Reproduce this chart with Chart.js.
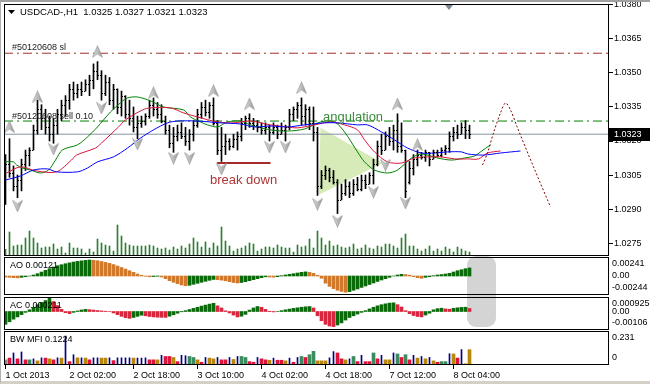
<!DOCTYPE html>
<html><head><meta charset="utf-8">
<script src="https://cdn.jsdelivr.net/npm/chart.js@4.4.1/dist/chart.umd.min.js"></script>
<style>
html,body{margin:0;padding:0;background:#fff;}
#wrap{position:relative;width:650px;height:384px;overflow:hidden;background:#fff;}
canvas{position:absolute;left:0;}
#shade{position:absolute;left:467px;top:256px;width:29px;height:71px;border-radius:9px;background:#d4d4d4;}
#shift{position:absolute;left:445px;top:5px;width:0;height:0;border-left:4px solid transparent;border-right:4px solid transparent;border-top:5px solid #7f8790;}
#frame{position:absolute;left:0;top:0;width:650px;height:384px;box-sizing:border-box;border-top:2px solid #a0a0a0;border-left:1px solid #b0b0b0;border-bottom:3px solid #d4d0c8;pointer-events:none;}
</style></head>
<body><div id="wrap">
<div id="shade"></div>
<canvas id="cMain" width="650" height="257" style="top:0px"></canvas>
<canvas id="cAO" width="650" height="38" style="top:257px"></canvas>
<canvas id="cAC" width="650" height="33" style="top:297px"></canvas>
<canvas id="cMFI" width="650" height="53" style="top:331px"></canvas>
<div id="shift"></div>
<div id="frame"></div>
</div>
<script>
// ---------------- DATA ----------------
const symbolTitle = 'USDCAD-,H1  1.0325 1.0327 1.0321 1.0323';
const timeLabels = ['1 Oct 2013','2 Oct 02:00','2 Oct 18:00','3 Oct 10:00','4 Oct 02:00','4 Oct 18:00','7 Oct 12:00','8 Oct 04:00'];
const timeTickIdx = [0,16,32,48,64,80,96,112];
const priceTicks = [1.0275,1.0290,1.0305,1.0320,1.0335,1.0350,1.0365,1.0380];

const highs = [1.0314,1.0321,1.0309,1.0305,1.0312,1.0316,1.0317,1.0327,1.0338,1.0336,
1.0334,1.0331,1.0330,1.0334,1.0338,1.0340,1.0345,1.0346,1.0345,1.0346,
1.0347,1.0349,1.0354,1.0355,1.0351,1.0349,1.0348,1.0345,1.0343,1.0342,
1.0340,1.0338,1.0335,1.0331,1.0331,1.0332,1.0338,1.0339,1.0337,1.0336,
1.0331,1.0327,1.0326,1.0327,1.0328,1.0326,1.0325,1.0329,1.0334,1.0337,
1.0338,1.0337,1.0339,1.0329,1.0326,1.0323,1.0321,1.0323,1.0324,1.0330,
1.0331,1.0332,1.0330,1.0329,1.0328,1.0328,1.0327,1.0328,1.0327,1.0328,
1.0327,1.0334,1.0335,1.0337,1.0339,1.0336,1.0335,1.0335,1.0326,1.0307,
1.0309,1.0308,1.0307,1.0303,1.0301,1.0303,1.0302,1.0303,1.0304,1.0305,
1.0305,1.0306,1.0312,1.0320,1.0323,1.0324,1.0326,1.0327,1.0332,1.0328,
1.0316,1.0311,1.0314,1.0316,1.0315,1.0316,1.0315,1.0316,1.0316,1.0317,
1.0318,1.0324,1.0326,1.0327,1.0328,1.0329,1.0327];
const lows = [1.0292,1.0304,1.0298,1.0295,1.0298,1.0307,1.0309,1.0316,1.0323,1.0325,
1.0323,1.0320,1.0319,1.0323,1.0329,1.0331,1.0334,1.0338,1.0339,1.0340,
1.0342,1.0340,1.0343,1.0347,1.0338,1.0340,1.0336,1.0334,1.0332,1.0331,
1.0330,1.0327,1.0324,1.0321,1.0326,1.0327,1.0330,1.0331,1.0330,1.0328,
1.0323,1.0317,1.0315,1.0320,1.0321,1.0318,1.0316,1.0320,1.0326,1.0330,
1.0331,1.0330,1.0327,1.0314,1.0311,1.0314,1.0316,1.0317,1.0316,1.0320,
1.0325,1.0326,1.0325,1.0324,1.0323,1.0323,1.0320,1.0323,1.0321,1.0323,
1.0320,1.0325,1.0329,1.0330,1.0327,1.0327,1.0325,1.0320,1.0296,1.0299,
1.0303,1.0302,1.0301,1.0288,1.0294,1.0296,1.0295,1.0296,1.0298,1.0298,
1.0299,1.0301,1.0301,1.0309,1.0314,1.0316,1.0318,1.0316,1.0315,1.0315,
1.0295,1.0301,1.0305,1.0309,1.0312,1.0311,1.0309,1.0312,1.0313,1.0313,
1.0314,1.0315,1.0320,1.0321,1.0323,1.0321,1.0321];
const opens = [1.0300,1.0310,1.0306,1.0300,1.0303,1.0310,1.0314,1.0316,1.0325,1.0334,
1.0330,1.0326,1.0323,1.0327,1.0332,1.0336,1.0338,1.0343,1.0341,1.0343,
1.0342,1.0345,1.0347,1.0351,1.0349,1.0341,1.0346,1.0338,1.0343,1.0335,
1.0340,1.0332,1.0330,1.0326,1.0328,1.0329,1.0331,1.0336,1.0334,1.0332,
1.0329,1.0325,1.0319,1.0322,1.0324,1.0322,1.0320,1.0323,1.0327,1.0332,
1.0335,1.0333,1.0336,1.0328,1.0316,1.0318,1.0320,1.0318,1.0321,1.0322,
1.0328,1.0330,1.0328,1.0327,1.0326,1.0325,1.0326,1.0324,1.0326,1.0323,
1.0325,1.0326,1.0332,1.0334,1.0336,1.0331,1.0334,1.0328,1.0324,1.0300,
1.0305,1.0307,1.0304,1.0302,1.0294,1.0297,1.0300,1.0297,1.0301,1.0299,
1.0303,1.0301,1.0305,1.0310,1.0318,1.0316,1.0322,1.0320,1.0325,1.0318,
1.0316,1.0302,1.0308,1.0312,1.0314,1.0313,1.0315,1.0312,1.0315,1.0314,
1.0316,1.0317,1.0322,1.0324,1.0323,1.0326,1.0325];
const closes = [1.0310,1.0306,1.0300,1.0303,1.0310,1.0314,1.0316,1.0325,1.0334,1.0330,
1.0326,1.0323,1.0327,1.0332,1.0336,1.0338,1.0343,1.0341,1.0343,1.0342,
1.0345,1.0347,1.0351,1.0349,1.0341,1.0346,1.0338,1.0343,1.0335,1.0340,
1.0332,1.0330,1.0326,1.0328,1.0329,1.0331,1.0336,1.0334,1.0332,1.0329,
1.0325,1.0319,1.0322,1.0324,1.0322,1.0320,1.0323,1.0327,1.0332,1.0335,
1.0333,1.0336,1.0328,1.0316,1.0318,1.0320,1.0318,1.0321,1.0322,1.0328,
1.0330,1.0328,1.0327,1.0326,1.0325,1.0326,1.0324,1.0326,1.0323,1.0325,
1.0326,1.0332,1.0334,1.0336,1.0331,1.0334,1.0328,1.0324,1.0300,1.0305,
1.0307,1.0304,1.0302,1.0294,1.0297,1.0300,1.0297,1.0301,1.0299,1.0303,
1.0301,1.0305,1.0310,1.0318,1.0316,1.0322,1.0320,1.0325,1.0318,1.0316,
1.0298,1.0308,1.0312,1.0314,1.0313,1.0315,1.0312,1.0315,1.0314,1.0316,
1.0317,1.0322,1.0324,1.0323,1.0326,1.0325,1.0323];
const volumes = [335,1200,500,550,550,900,1250,900,650,400,
450,450,600,350,450,150,650,400,400,350,
150,350,200,850,650,550,500,250,1550,1000,
650,550,500,500,500,500,550,500,400,350,
400,300,450,350,500,400,600,900,700,450,
700,400,650,500,1450,750,500,250,350,400,
500,650,600,250,350,450,450,400,550,450,
400,400,200,550,450,500,850,400,1250,900,
550,750,500,550,450,400,450,600,350,400,
550,400,350,500,450,600,600,500,400,900,
1100,500,500,350,250,350,500,250,350,250,
450,350,200,450,350,250,200];

// Alligator (jaw / teeth / lips), bar index -> price, shifted forward
const jawIdx = [0,3.75,7,10.5,12.75,18,20.5,23,27,30.5,33.75,37,40.5,43,48,53.75,58.75,62.25,66.25,70.5,74.75,79.75,83,88,90.5,94,97.25,100.5,104,107.25,110.5,114,115.5,119.5,123.75,128.75];
const jawVal = [1.03028,1.03046,1.03072,1.03077,1.03064,1.03064,1.03081,1.03108,1.0313,1.03169,1.03213,1.03249,1.0328,1.03288,1.03288,1.0328,1.03275,1.03262,1.03266,1.03262,1.03271,1.0328,1.0328,1.03271,1.03271,1.0324,1.03205,1.03169,1.03147,1.03147,1.03152,1.03152,1.03143,1.03138,1.03147,1.03156];
const teethIdx = [0.25,3.75,7.75,12.75,16.5,17.75,22.5,24,28.25,30,34.25,36.25,41.25,44.5,48,53,57,61.25,66.25,70.5,73,77.25,81.25,84.75,88,89.75,92.25,95.5,99,102.25,105.5,109,112.25,115.5,118.25,120.5,123.75];
const teethVal = [1.03059,1.03086,1.03068,1.03064,1.03116,1.03138,1.03169,1.03191,1.03262,1.03293,1.03337,1.03346,1.03346,1.03324,1.03306,1.03284,1.0328,1.03288,1.03271,1.03262,1.03258,1.03271,1.03284,1.03271,1.03249,1.03205,1.03152,1.03108,1.03103,1.03125,1.0313,1.0313,1.03121,1.03121,1.03121,1.03147,1.03156];
const lipsIdx = [-0.5,2,2.75,4.25,6.25,8.75,10.75,12.5,14.25,18,20.5,23,24.5,26.25,29,30.5,33,36.25,39.5,44.5,46.25,48.75,50.5,53,55.5,58.75,61.25,66.25,70.5,74.75,78.75,82.25,84.75,88,89.75,92.25,95.5,98,101.5,104,108,111.5,114.75,117.25,118.75,121.25];
const lipsVal = [1.03108,1.03108,1.03094,1.03081,1.03072,1.03059,1.03072,1.03116,1.03161,1.03183,1.03218,1.03262,1.03293,1.03328,1.03372,1.0339,1.03394,1.03377,1.0335,1.03337,1.03306,1.03284,1.03271,1.03262,1.03284,1.03288,1.03271,1.03249,1.03244,1.03253,1.03284,1.03284,1.0324,1.03152,1.03108,1.03072,1.03059,1.03072,1.03125,1.03143,1.03125,1.03116,1.03125,1.03134,1.03152,1.03183];

// Fractals
const fractalUpIdx = [1,8,23,37,52,61,74,98,103];
const fractalUpPrice = [1.03262,1.03394,1.03593,1.03412,1.03421,1.03363,1.03434,1.03363,1.03183];
const fractalDnIdx = [3,12,24,33,42,46,54,66,70,78,83,92,95,100];
const fractalDnPrice = [1.02914,1.03165,1.03346,1.03187,1.03125,1.03125,1.03077,1.03174,1.03174,1.02922,1.02847,1.02975,1.03094,1.02927];

// Drawn objects
const triIdx = [78.75,78.25,94.25,78.75];
const triPrice = [1.03258,1.02962,1.03103,1.03258];
const projIdx = [119.25,120.5,122,123.75,125,126.25,128,132,136.25];
const projPrice = [1.03094,1.03147,1.03236,1.03324,1.03368,1.03337,1.03258,1.03086,1.02909];
const breakIdx = [52.9,66.25];
const breakPrice = [1.03103,1.03103];
const slPrice = 1.03587;
const sellPrice = 1.03288;
const bidPrice = 1.0323;

// Indicators
const aoValues = [
-0.00015,-0.00020,-0.00025,-0.00028,-0.00020,-0.00010,0.00000,0.00015,0.00035,0.00060,
0.00085,0.00110,0.00135,0.00155,0.00170,0.00185,0.00198,0.00210,0.00220,0.00228,
0.00235,0.00241,0.00236,0.00230,0.00218,0.00205,0.00190,0.00172,0.00150,0.00128,
0.00105,0.00080,0.00055,0.00030,0.00010,-0.00005,-0.00012,-0.00008,-0.00004,-0.00015,
-0.00040,-0.00070,-0.00095,-0.00115,-0.00135,-0.00147,-0.00140,-0.00125,-0.00110,-0.00095,
-0.00080,-0.00065,-0.00052,-0.00055,-0.00062,-0.00072,-0.00085,-0.00098,-0.00105,-0.00098,
-0.00085,-0.00070,-0.00055,-0.00040,-0.00025,-0.00012,-0.00015,-0.00018,-0.00010,0.00005,
0.00015,0.00025,0.00035,0.00045,0.00055,0.00062,0.00055,0.00040,0.00010,-0.00034,
-0.00108,-0.00157,-0.00190,-0.00215,-0.00232,-0.00244,-0.00235,-0.00215,-0.00195,-0.00172,
-0.00150,-0.00128,-0.00105,-0.00082,-0.00060,-0.00040,-0.00020,0.00000,0.00015,0.00025,
0.00022,0.00012,-0.00010,-0.00025,-0.00035,-0.00020,-0.00010,0.00005,0.00015,0.00022,
0.00030,0.00040,0.00060,0.00080,0.00095,0.00110,0.00121];
const acValues = [
-0.000900,-0.000720,-0.000540,-0.000380,-0.000220,-0.000060,0.000120,0.000300,0.000480,0.000640,
0.000770,0.000925,0.000700,0.000420,0.000150,-0.000080,-0.000150,-0.000060,0.000040,0.000110,
0.000150,0.000130,0.000100,0.000070,0.000040,0.000020,0.000000,-0.000100,-0.000220,-0.000340,
-0.000430,-0.000480,-0.000420,-0.000340,-0.000260,-0.000300,-0.000350,-0.000380,-0.000400,-0.000410,
-0.000415,-0.000330,-0.000230,-0.000120,-0.000020,0.000060,0.000140,0.000220,0.000300,0.000380,
0.000450,0.000520,0.000580,0.000400,0.000250,0.000050,-0.000100,-0.000250,-0.000380,-0.000330,
-0.000200,0.000100,0.000250,0.000350,0.000300,0.000150,0.000020,-0.000030,0.000000,0.000060,
0.000120,0.000170,0.000220,0.000260,0.000300,0.000330,0.000350,0.000250,-0.000300,-0.000650,
-0.000900,-0.001020,-0.001060,-0.000950,-0.000800,-0.000600,-0.000420,-0.000300,-0.000180,-0.000060,
0.000060,0.000180,0.000300,0.000400,0.000480,0.000540,0.000590,0.000610,0.000480,0.000320,
0.000060,-0.000150,-0.000280,-0.000350,-0.000380,-0.000250,-0.000120,0.000120,0.000200,0.000230,
0.000180,0.000160,0.000220,0.000260,0.000290,0.000300,0.000211];
const mfiValues = [
0.041,0.055,0.096,0.049,0.104,0.041,0.041,0.049,0.033,0.057,
0.055,0.049,0.041,0.057,0.055,0.231,0.027,0.082,0.057,0.057,
0.055,0.041,0.057,0.057,0.055,0.055,0.057,0.035,0.057,0.057,
0.057,0.057,0.055,0.055,0.055,0.057,0.041,0.041,0.041,0.077,
0.068,0.068,0.060,0.027,0.077,0.074,0.068,0.060,0.041,0.022,
0.060,0.055,0.049,0.060,0.041,0.041,0.060,0.044,0.068,0.068,
0.060,0.027,0.022,0.060,0.049,0.041,0.038,0.055,0.038,0.038,
0.033,0.055,0.022,0.060,0.068,0.060,0.082,0.109,0.033,0.033,
0.033,0.057,0.107,0.096,0.049,0.041,0.049,0.068,0.027,0.077,
0.027,0.027,0.096,0.049,0.077,0.041,0.041,0.096,0.088,0.060,
0.082,0.041,0.077,0.055,0.068,0.049,0.060,0.033,0.022,0.027,
0.027,0.090,0.088,0.055,0.123,0.010,0.1224];
// x = first bar, g = green, b = fade (brown), n = fake (blue), r = squat (red)
const mfiTypes = ('xrnrnrgnbn'+'rbrnbnrnbn'+'brnnbbnrnn'+'nnbnnnrrbn'+'rrbrnnggbr'+
 'nbbnrrnbng'+'grrnrrbnrr'+'bnrngrggbb'+'bnnrrbngrn'+'rrgrnbbngr'+'grnbnbnbrg'+'gnbrnbb').split('');

const aoTitle = 'AO 0.00121', acTitle = 'AC 0.000211', mfiTitle = 'BW MFI 0.1224';
const aoLabels = [0.00241, 0, -0.00244], aoLabelText = ['0.00241','0.00','-0.00244'];
const acLabels = [0.000925, 0, -0.00106], acLabelText = ['0.000925','0.00','-0.00106'];
const mfiLabels = [0.231, 0], mfiLabelText = ['0.231','0'];

// ---------------- STYLE / SETUP ----------------
const FONT = "'Liberation Sans', Arial, sans-serif";
Chart.defaults.font.family = FONT;
Chart.defaults.font.size = 9;
Chart.defaults.color = '#000';
const X_MIN = -0.375, X_MAX = X_MIN + 605/4;
const Y_MIN = 1.02693, Y_MAX = 1.03804;

function arrowImg(up) {
  const c = document.createElement('canvas'); c.width = 11; c.height = 13;
  const g = c.getContext('2d');
  if (!up) { g.translate(0, 13); g.scale(1, -1); }
  const gr = g.createLinearGradient(0, 0, 11, 0);
  gr.addColorStop(0, '#e4e4e4'); gr.addColorStop(0.5, '#bcbcbc'); gr.addColorStop(1, '#8e8e8e');
  g.beginPath(); g.moveTo(5.5, 0.5); g.lineTo(10.5, 12); g.lineTo(5.5, 8.5); g.lineTo(0.5, 12); g.closePath();
  g.fillStyle = gr; g.fill(); g.strokeStyle = '#9a9a9a'; g.lineWidth = 0.7; g.stroke();
  return c;
}
const upArrow = arrowImg(true), dnArrow = arrowImg(false);

const pts = (xs, ys) => xs.map((x, k) => ({x, y: ys[k]}));
const idxs = highs.map((_, i) => i);

const common = {
  responsive: false, animation: false, devicePixelRatio: 1, events: [],
  plugins: {legend: {display: false}, tooltip: {enabled: false}, title: {display: false}},
};
const xHidden = {type: 'linear', min: X_MIN, max: X_MAX, offset: false, display: false};

function frame(ctx, ca) {
  ctx.strokeStyle = '#000'; ctx.lineWidth = 1;
  ctx.strokeRect(ca.left + 0.5, ca.top + 0.5, ca.right - ca.left - 1, ca.bottom - ca.top - 1);
}

// ---------------- MAIN CHART ----------------
const mainOverlay = {
  id: 'mainOverlay',
  afterDatasetsDraw(chart) {
    const {ctx, scales: {x, y}} = chart;
    ctx.save(); ctx.fillStyle = '#000';
    for (let i = 0; i < opens.length; i++) {
      const px = Math.floor(x.getPixelForValue(i));
      ctx.fillRect(px - 1, Math.round(y.getPixelForValue(opens[i])), 1, 1);
      ctx.fillRect(px + 1, Math.round(y.getPixelForValue(closes[i])), 1, 1);
    }
    ctx.restore();
  },
  afterDraw(chart) {
    const {ctx, chartArea: ca, scales: {x, y}} = chart;
    ctx.save();
    frame(ctx, ca);
    ctx.textBaseline = 'middle'; ctx.textAlign = 'left';
    // order labels
    ctx.font = `9px ${FONT}`; ctx.fillStyle = '#202020';
    ctx.fillText('#50120608 sl', ca.left + 8, y.getPixelForValue(slPrice) - 6);
    ctx.fillText('#50120608 sell 0.10', ca.left + 8, y.getPixelForValue(sellPrice) - 5);
    // annotations
    ctx.font = `13px ${FONT}`; ctx.fillStyle = '#3a8c3a';
    ctx.fillText('angulation', x.getPixelForValue(79.4), y.getPixelForValue(1.03306));
    ctx.fillStyle = '#b03535';
    ctx.fillText('break down', x.getPixelForValue(51.1), y.getPixelForValue(1.03028));
    // title
    ctx.fillStyle = '#000';
    ctx.beginPath(); ctx.moveTo(8, 10); ctx.lineTo(15, 10); ctx.lineTo(11.5, 14); ctx.closePath(); ctx.fill();
    ctx.font = `9.5px ${FONT}`;
    ctx.fillText(symbolTitle, 20, 12);
    // bid box
    ctx.font = `9px ${FONT}`;
    const by = y.getPixelForValue(bidPrice);
    ctx.fillStyle = '#000'; ctx.fillRect(ca.right, Math.round(by) - 6, 41, 13);
    ctx.fillStyle = '#fff'; ctx.fillText(bidPrice.toFixed(4), ca.right + 5, Math.round(by) + 0.5);
    ctx.restore();
  }
};

const levelLine = (price, color, dash) => ({
  type: 'line', data: [{x: X_MIN, y: price}, {x: X_MAX, y: price}], borderColor: color,
  borderWidth: 1, borderDash: dash, pointRadius: 0, order: 6
});

new Chart(document.getElementById('cMain'), {
  type: 'bar',
  data: {datasets: [
    {type: 'bar', label: 'Volume', yAxisID: 'yVol', data: pts(idxs, volumes), backgroundColor: '#2e7d32',
      barThickness: 1, grouped: false, order: 10},
    {type: 'line', label: 'angulation', data: pts(triIdx, triPrice), fill: 'shape',
      backgroundColor: 'rgba(200,228,160,0.75)', borderWidth: 0, pointRadius: 0, order: 9},
    levelLine(slPrice, '#a53030', [9, 4, 2, 4]),
    levelLine(sellPrice, '#008000', [9, 4, 2, 4]),
    levelLine(bidPrice, '#8494a4', []),
    {type: 'bar', label: 'HL', data: idxs.map(i => ({x: i, y: [lows[i], highs[i]]})), backgroundColor: '#000',
      barThickness: 1, grouped: false, order: 5},
    {type: 'line', label: 'Jaw', data: pts(jawIdx, jawVal), borderColor: '#0000ff', borderWidth: 1, pointRadius: 0, tension: 0.3, order: 4},
    {type: 'line', label: 'Teeth', data: pts(teethIdx, teethVal), borderColor: '#dc143c', borderWidth: 1, pointRadius: 0, tension: 0.3, order: 4},
    {type: 'line', label: 'Lips', data: pts(lipsIdx, lipsVal), borderColor: '#008000', borderWidth: 1, pointRadius: 0, tension: 0.3, order: 4},
    {type: 'line', label: 'break down', data: pts(breakIdx, breakPrice), borderColor: '#a52a2a', borderWidth: 2, pointRadius: 0, order: 3},
    {type: 'line', label: 'projection', data: pts(projIdx, projPrice), borderColor: '#800000', borderWidth: 1, borderDash: [2, 2], pointRadius: 0, tension: 0.3, order: 3},
    {type: 'line', label: 'Fractal up', data: pts(fractalUpIdx, fractalUpPrice), showLine: false, pointStyle: upArrow, pointRadius: 5, order: 1},
    {type: 'line', label: 'Fractal down', data: pts(fractalDnIdx, fractalDnPrice), showLine: false, pointStyle: dnArrow, pointRadius: 5, order: 1},
  ]},
  options: {...common,
    layout: {padding: {left: 4, top: 4, right: 0, bottom: 1}, autoPadding: false},
    scales: {
      x: xHidden,
      y: {type: 'linear', position: 'right', min: Y_MIN, max: Y_MAX,
        afterBuildTicks: s => { s.ticks = priceTicks.map(v => ({value: v})); },
        afterFit: s => { s.width = 41; s.paddingTop = 0; s.paddingBottom = 0; },
        ticks: {padding: 1, font: {size: 9}, color: '#000', callback: v => Number(v).toFixed(4)},
        grid: {drawOnChartArea: false, tickLength: 4, color: '#000'},
        border: {display: false}},
      yVol: {type: 'linear', min: 0, max: 12600, display: false}
    }
  },
  plugins: [mainOverlay]
});

// ---------------- SUB PANELS ----------------
function panelPlugin(title, vals, texts) {
  return {id: 'panel', afterDraw(chart) {
    const {ctx, chartArea: ca, scales: {y}} = chart;
    ctx.save(); frame(ctx, ca);
    ctx.font = `9px ${FONT}`; ctx.fillStyle = '#000'; ctx.textBaseline = 'middle'; ctx.textAlign = 'left';
    ctx.fillText(title, ca.left + 6, ca.top + 9);
    vals.forEach((v, k) => {
      let py = y.getPixelForValue(v);
      py = Math.min(Math.max(py, ca.top + 7), ca.bottom - 7);
      ctx.fillText(texts[k], ca.right + 3, py);
    });
    ctx.restore();
  }};
}
const subLayout = {padding: {left: 4, right: 41, top: 0, bottom: 0}, autoPadding: false};

const AO_UP = '#0b6b0b', AO_DN = '#d17a2c';
new Chart(document.getElementById('cAO'), {
  type: 'bar',
  data: {datasets: [{data: pts(idxs, aoValues), barThickness: 3, grouped: false,
    backgroundColor: aoValues.map((v, i) => (i > 0 && v > aoValues[i - 1]) ? AO_UP : AO_DN)}]},
  options: {...common, layout: subLayout,
    scales: {x: xHidden, y: {type: 'linear', min: -0.00286, max: 0.00286, display: false}}},
  plugins: [panelPlugin(aoTitle, aoLabels, aoLabelText)]
});

const AC_UP = '#0b6b0b', AC_DN = '#d7263d';
new Chart(document.getElementById('cAC'), {
  type: 'bar',
  data: {datasets: [{data: pts(idxs, acValues), barThickness: 3, grouped: false,
    backgroundColor: acValues.map((v, i) => (i === 0 || v > acValues[i - 1]) ? AC_UP : AC_DN)}]},
  options: {...common, layout: subLayout,
    scales: {x: xHidden, y: {type: 'linear', min: -0.0013, max: 0.00102, display: false}}},
  plugins: [panelPlugin(acTitle, acLabels, acLabelText)]
});

const MFI_COL = {x: '#8c8c8c', g: '#3a8c5e', b: '#b8860b', r: '#dc143c', n: '#000080'};
new Chart(document.getElementById('cMFI'), {
  type: 'bar',
  data: {datasets: [
    {data: idxs.map(i => ({x: i, y: mfiTypes[i] === 'n' ? mfiValues[i] : null})), backgroundColor: MFI_COL.n, barThickness: 1, grouped: false},
    {data: idxs.map(i => ({x: i, y: mfiTypes[i] !== 'n' ? mfiValues[i] : null})), backgroundColor: idxs.map(i => MFI_COL[mfiTypes[i]]), barThickness: 3, grouped: false}
  ]},
  options: {...common,
    layout: {padding: {left: 4, right: 41, top: 0, bottom: 0}, autoPadding: false},
    scales: {
      x: {type: 'linear', min: X_MIN, max: X_MAX, position: 'bottom', offset: false,
        afterBuildTicks: s => { s.ticks = timeTickIdx.map(v => ({value: v})); },
        afterFit: s => { s.height = 19; s.paddingLeft = 0; s.paddingRight = 0; },
        ticks: {autoSkip: false, maxRotation: 0, minRotation: 0, align: 'start', padding: 1,
          font: {size: 9}, color: '#000', callback: v => timeLabels[timeTickIdx.indexOf(v)]},
        grid: {drawOnChartArea: false, offset: false, tickLength: 4, color: '#000'},
        border: {display: false}},
      y: {type: 'linear', min: 0, max: 0.271, display: false}
    }
  },
  plugins: [panelPlugin(mfiTitle, mfiLabels, mfiLabelText)]
});
</script>
</body></html>
